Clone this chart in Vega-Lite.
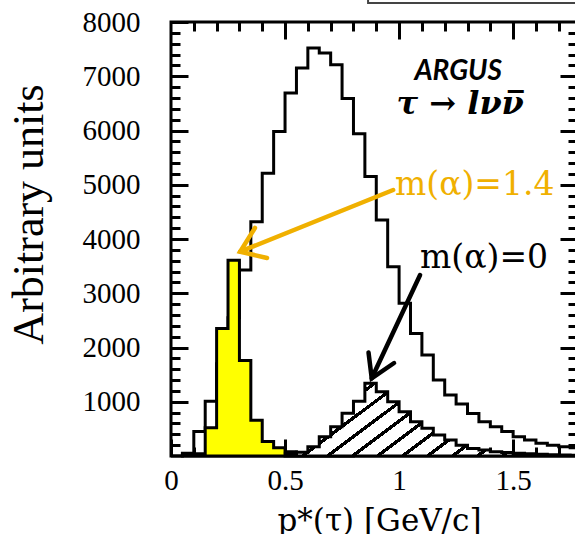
{
  "$schema": "https://vega.github.io/schema/vega-lite/v6.json",
  "width": 406,
  "height": 434,
  "autosize": {"type": "none"},
  "padding": {"left": 171, "top": 22, "right": 0, "bottom": 78},
  "background": "white",
  "config": {
    "view": {"stroke": "black", "strokeWidth": 3},
    "axis": {"domain": false, "grid": false, "tickColor": "black", "tickWidth": 3, "labelColor": "black", "titleColor": "black", "labelFlush": false, "labelOverlap": false}
  },
  "datasets": {
    "white": [
      {"p": 0.0, "n": 0}, {"p": 0.05, "n": 50}, {"p": 0.10, "n": 450}, {"p": 0.15, "n": 1010},
      {"p": 0.20, "n": 1700}, {"p": 0.25, "n": 2550}, {"p": 0.30, "n": 3430}, {"p": 0.35, "n": 4320},
      {"p": 0.40, "n": 5210}, {"p": 0.45, "n": 5980}, {"p": 0.50, "n": 6690}, {"p": 0.55, "n": 7150},
      {"p": 0.60, "n": 7520}, {"p": 0.65, "n": 7430}, {"p": 0.70, "n": 7210}, {"p": 0.75, "n": 6590},
      {"p": 0.80, "n": 5940}, {"p": 0.85, "n": 5150}, {"p": 0.90, "n": 4350}, {"p": 0.95, "n": 3490},
      {"p": 1.00, "n": 2815}, {"p": 1.05, "n": 2260}, {"p": 1.10, "n": 1860}, {"p": 1.15, "n": 1400},
      {"p": 1.20, "n": 1125}, {"p": 1.25, "n": 960}, {"p": 1.30, "n": 785}, {"p": 1.35, "n": 630},
      {"p": 1.40, "n": 540}, {"p": 1.45, "n": 450}, {"p": 1.50, "n": 355}, {"p": 1.55, "n": 295},
      {"p": 1.60, "n": 235}, {"p": 1.65, "n": 200}, {"p": 1.70, "n": 170}, {"p": 1.75, "n": 150},
      {"p": 1.80, "n": 0}
    ],
    "yellow": [
      {"p": 0.05, "n": 20}, {"p": 0.10, "n": 40}, {"p": 0.15, "n": 520}, {"p": 0.20, "n": 2350},
      {"p": 0.25, "n": 3610}, {"p": 0.30, "n": 1760}, {"p": 0.35, "n": 660}, {"p": 0.40, "n": 265},
      {"p": 0.45, "n": 150}, {"p": 0.50, "n": 80}, {"p": 0.55, "n": 50}, {"p": 0.60, "n": 35},
      {"p": 0.65, "n": 25}, {"p": 0.70, "n": 20}, {"p": 0.75, "n": 15}, {"p": 0.80, "n": 0}
    ],
    "hatched": [
      {"p": 0.50, "n": 30}, {"p": 0.55, "n": 70}, {"p": 0.60, "n": 170}, {"p": 0.65, "n": 355},
      {"p": 0.70, "n": 540}, {"p": 0.75, "n": 790}, {"p": 0.80, "n": 1010}, {"p": 0.85, "n": 1340},
      {"p": 0.90, "n": 1185}, {"p": 0.95, "n": 1000}, {"p": 1.00, "n": 815}, {"p": 1.05, "n": 630},
      {"p": 1.10, "n": 510}, {"p": 1.15, "n": 385}, {"p": 1.20, "n": 295}, {"p": 1.25, "n": 200},
      {"p": 1.30, "n": 140}, {"p": 1.35, "n": 110}, {"p": 1.40, "n": 80}, {"p": 1.45, "n": 65},
      {"p": 1.50, "n": 50}, {"p": 1.55, "n": 40}, {"p": 1.60, "n": 30}, {"p": 1.65, "n": 25},
      {"p": 1.70, "n": 20}, {"p": 1.75, "n": 15}, {"p": 1.80, "n": 0}
    ],
    "arrows": [
      {"arrow": "m14", "part": "o_shaft", "k": 0, "p": 0.974, "n": 4903},
      {"arrow": "m14", "part": "o_shaft", "k": 1, "p": 0.303, "n": 3766},
      {"arrow": "m14", "part": "o_head", "k": 0, "p": 0.368, "n": 4203},
      {"arrow": "m14", "part": "o_head", "k": 1, "p": 0.303, "n": 3766},
      {"arrow": "m14", "part": "o_head", "k": 2, "p": 0.421, "n": 3650},
      {"arrow": "m0", "part": "b_shaft", "k": 0, "p": 1.092, "n": 3336},
      {"arrow": "m0", "part": "b_shaft", "k": 1, "p": 0.880, "n": 1432},
      {"arrow": "m0", "part": "b_head", "k": 0, "p": 0.866, "n": 1908},
      {"arrow": "m0", "part": "b_head", "k": 1, "p": 0.880, "n": 1432},
      {"arrow": "m0", "part": "b_head", "k": 2, "p": 0.978, "n": 1714}
    ]
  },
  "encoding": {
    "x": {"field": "p", "type": "quantitative", "scale": {"domain": [0, 1.78], "nice": false, "zero": false}, "axis": null},
    "y": {"field": "n", "type": "quantitative", "scale": {"domain": [0, 8000], "nice": false}, "axis": null}
  },
  "layer": [
    {
      "data": {"name": "white"},
      "mark": {"type": "line", "interpolate": "step-after", "color": "black", "strokeWidth": 3, "strokeJoin": "miter"},
      "encoding": {
        "x": {"field": "p", "type": "quantitative", "scale": {"domain": [0, 1.78], "nice": false, "zero": false},
          "axis": {"orient": "bottom", "values": [0, 0.5, 1, 1.5], "format": "~g", "tickSize": -17,
            "labelFont": "Liberation Serif", "labelFontSize": 29, "labelPadding": 27, "labelBaseline": "top",
            "title": "p*(τ) [GeV/c]", "titleFont": "DejaVu Serif", "titleFontSize": 31, "titleFontWeight": "normal",
            "titleX": 208, "titleY": 74, "titleBaseline": "alphabetic", "titleAlign": "center"}},
        "y": {"field": "n", "type": "quantitative", "scale": {"domain": [0, 8000], "nice": false},
          "axis": {"orient": "left", "values": [1000, 2000, 3000, 4000, 5000, 6000, 7000, 8000], "format": "d", "tickSize": -17,
            "labelFont": "Liberation Serif", "labelFontSize": 29, "labelPadding": 48, "labelBaseline": "middle",
            "title": "Arbitrary units", "titleFont": "Liberation Serif", "titleFontSize": 44, "titleFontWeight": "normal",
            "titleX": -129, "titleY": 192, "titleAngle": -90, "titleBaseline": "alphabetic", "titleAlign": "center"}}
      }
    },
    {
      "data": {"name": "yellow"},
      "mark": {"type": "area", "interpolate": "step-after", "fill": "#ffff00", "fillOpacity": 1, "stroke": "black", "strokeWidth": 3, "strokeJoin": "miter"},
      "encoding": {
        "x": {"field": "p", "type": "quantitative", "scale": {"domain": [0, 1.78], "nice": false, "zero": false},
          "axis": {"orient": "bottom", "values": [0.1, 0.2, 0.3, 0.4, 0.6, 0.7, 0.8, 0.9, 1.1, 1.2, 1.3, 1.4, 1.6, 1.7], "tickSize": -9, "labels": false, "title": null}},
        "y": {"field": "n", "type": "quantitative", "scale": {"domain": [0, 8000], "nice": false},
          "axis": {"orient": "left", "values": [200, 400, 600, 800, 1200, 1400, 1600, 1800, 2200, 2400, 2600, 2800, 3200, 3400, 3600, 3800, 4200, 4400, 4600, 4800, 5200, 5400, 5600, 5800, 6200, 6400, 6600, 6800, 7200, 7400, 7600, 7800], "tickSize": -9, "labels": false, "title": null}}
      }
    },
    {
      "data": {"name": "hatched"},
      "mark": {"type": "area", "interpolate": "step-after", "stroke": "black", "strokeWidth": 3, "strokeJoin": "miter",
        "fill": {"gradient": "linear", "x1": 0, "y1": 0, "x2": 1.199, "y2": 0.393, "stops": [
          {"offset": 0, "color": "white"},
          {"offset": 0.03, "color": "white"}, {"offset": 0.03, "color": "black"}, {"offset": 0.044, "color": "black"}, {"offset": 0.044, "color": "white"},
          {"offset": 0.0935, "color": "white"}, {"offset": 0.0935, "color": "black"}, {"offset": 0.1075, "color": "black"}, {"offset": 0.1075, "color": "white"},
          {"offset": 0.157, "color": "white"}, {"offset": 0.157, "color": "black"}, {"offset": 0.171, "color": "black"}, {"offset": 0.171, "color": "white"},
          {"offset": 0.2205, "color": "white"}, {"offset": 0.2205, "color": "black"}, {"offset": 0.2345, "color": "black"}, {"offset": 0.2345, "color": "white"},
          {"offset": 0.284, "color": "white"}, {"offset": 0.284, "color": "black"}, {"offset": 0.298, "color": "black"}, {"offset": 0.298, "color": "white"},
          {"offset": 0.3475, "color": "white"}, {"offset": 0.3475, "color": "black"}, {"offset": 0.3615, "color": "black"}, {"offset": 0.3615, "color": "white"},
          {"offset": 0.411, "color": "white"}, {"offset": 0.411, "color": "black"}, {"offset": 0.425, "color": "black"}, {"offset": 0.425, "color": "white"},
          {"offset": 0.4745, "color": "white"}, {"offset": 0.4745, "color": "black"}, {"offset": 0.4885, "color": "black"}, {"offset": 0.4885, "color": "white"},
          {"offset": 0.538, "color": "white"}, {"offset": 0.538, "color": "black"}, {"offset": 0.552, "color": "black"}, {"offset": 0.552, "color": "white"},
          {"offset": 0.6015, "color": "white"}, {"offset": 0.6015, "color": "black"}, {"offset": 0.6155, "color": "black"}, {"offset": 0.6155, "color": "white"},
          {"offset": 0.665, "color": "white"}, {"offset": 0.665, "color": "black"}, {"offset": 0.679, "color": "black"}, {"offset": 0.679, "color": "white"},
          {"offset": 0.7285, "color": "white"}, {"offset": 0.7285, "color": "black"}, {"offset": 0.7425, "color": "black"}, {"offset": 0.7425, "color": "white"},
          {"offset": 0.792, "color": "white"}, {"offset": 0.792, "color": "black"}, {"offset": 0.806, "color": "black"}, {"offset": 0.806, "color": "white"},
          {"offset": 0.8555, "color": "white"}, {"offset": 0.8555, "color": "black"}, {"offset": 0.8695, "color": "black"}, {"offset": 0.8695, "color": "white"},
          {"offset": 0.919, "color": "white"}, {"offset": 0.919, "color": "black"}, {"offset": 0.933, "color": "black"}, {"offset": 0.933, "color": "white"},
          {"offset": 0.9825, "color": "white"}, {"offset": 0.9825, "color": "black"}, {"offset": 0.9965, "color": "black"}, {"offset": 0.9965, "color": "white"},
          {"offset": 1, "color": "white"}
        ]}},
      "encoding": {
        "x": {"field": "p", "type": "quantitative", "scale": {"domain": [0, 1.78], "nice": false, "zero": false},
          "axis": {"orient": "top", "values": [0.5, 1, 1.5], "tickSize": -17, "labels": false, "title": null}},
        "y": {"field": "n", "type": "quantitative", "scale": {"domain": [0, 8000], "nice": false},
          "axis": {"orient": "right", "values": [1000, 2000, 3000, 4000, 5000, 6000, 7000], "tickSize": -17, "labels": false, "title": null}}
      }
    },
    {
      "data": {"name": "arrows"},
      "mark": {"type": "line", "strokeWidth": 4.5, "strokeCap": "round", "strokeJoin": "miter"},
      "encoding": {
        "x": {"field": "p", "type": "quantitative", "scale": {"domain": [0, 1.78], "nice": false, "zero": false},
          "axis": {"orient": "top", "values": [0.1, 0.2, 0.3, 0.4, 0.6, 0.7, 0.8, 0.9, 1.1, 1.2, 1.3, 1.4, 1.6, 1.7], "tickSize": -9, "labels": false, "title": null}},
        "y": {"field": "n", "type": "quantitative", "scale": {"domain": [0, 8000], "nice": false},
          "axis": {"orient": "right", "values": [200, 400, 600, 800, 1200, 1400, 1600, 1800, 2200, 2400, 2600, 2800, 3200, 3400, 3600, 3800, 4200, 4400, 4600, 4800, 5200, 5400, 5600, 5800, 6200, 6400, 6600, 6800, 7200, 7400, 7600, 7800], "tickSize": -9, "labels": false, "title": null}},
        "detail": {"field": "part"},
        "order": {"field": "k"},
        "color": {"field": "arrow", "type": "nominal", "scale": {"domain": ["m14", "m0"], "range": ["#F0B000", "black"]}, "legend": null}
      }
    },
    {
      "data": {"values": [{"label": "ARGUS", "p": 1.259, "n": 6931}]},
      "mark": {"type": "text", "font": "Lato", "fontWeight": "bold", "fontStyle": "italic", "fontSize": 28, "align": "center", "baseline": "alphabetic", "color": "black"},
      "encoding": {"text": {"field": "label"}}
    },
    {
      "data": {"values": [{"label": "τ → lνν̅", "p": 1.268, "n": 6304}]},
      "mark": {"type": "text", "font": "DejaVu Serif", "fontWeight": "bold", "fontStyle": "italic", "fontSize": 32, "align": "center", "baseline": "alphabetic", "color": "black"},
      "encoding": {"text": {"field": "label"}}
    },
    {
      "data": {"values": [{"label": "m(α)=1.4", "p": 0.982, "n": 4811}]},
      "mark": {"type": "text", "font": "DejaVu Serif", "fontSize": 33, "align": "left", "baseline": "alphabetic", "color": "#F0B000"},
      "encoding": {"text": {"field": "label"}}
    },
    {
      "data": {"values": [{"label": "m(α)=0", "p": 1.092, "n": 3465}]},
      "mark": {"type": "text", "font": "DejaVu Serif", "fontSize": 33, "align": "left", "baseline": "alphabetic", "color": "black"},
      "encoding": {"text": {"field": "label"}}
    },
    {
      "data": {"values": [{"p": 0.864, "p2": 1.9, "n": 8352, "n2": 8700}]},
      "mark": {"type": "rect", "fill": "white", "stroke": "#444444", "strokeWidth": 2},
      "encoding": {"x2": {"field": "p2"}, "y2": {"field": "n2"}}
    }
  ],
  "resolve": {"axis": {"x": "independent", "y": "independent"}}
}
